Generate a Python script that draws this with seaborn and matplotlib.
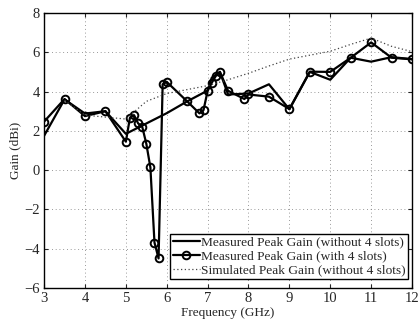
import matplotlib
matplotlib.use("Agg")
import matplotlib.pyplot as plt
import seaborn as sns
import pandas as pd

# Measured Peak Gain (without 4 slots)
freq_without = [3.0, 3.5, 4.0, 4.5, 5.0, 6.0, 6.5, 7.0, 7.1, 7.3, 7.5, 8.0, 8.5, 9.0, 9.5, 10.0, 10.5, 11.0, 11.5, 12.0]
gain_without = [1.75, 3.6, 2.88, 3.0, 1.85, 2.9, 3.5, 4.05, 4.7, 5.0, 3.85, 3.9, 4.37, 3.1, 5.0, 4.6, 5.72, 5.52, 5.75, 5.65]

# Measured Peak Gain (with 4 slots)
freq_with = [3.0, 3.5, 4.0, 4.5, 5.0, 5.1, 5.2, 5.3, 5.4, 5.5, 5.6, 5.7, 5.8, 5.9, 6.0, 6.5, 6.8, 6.9, 7.0, 7.1, 7.2, 7.3, 7.5, 7.9, 8.0, 8.5, 9.0, 9.5, 10.0, 10.5, 11.0, 11.5, 12.0]
gain_with = [2.47, 3.62, 2.75, 3.0, 1.45, 2.67, 2.8, 2.38, 2.21, 1.35, 0.14, -3.68, -4.49, 4.37, 4.49, 3.5, 2.89, 3.06, 4.03, 4.44, 4.79, 5.0, 4.04, 3.62, 3.85, 3.74, 3.11, 5.01, 5.0, 5.72, 6.5, 5.72, 5.64]

# Simulated Peak Gain (without 4 slots)
freq_sim = [3.5, 4.0, 4.5, 5.0, 5.5, 6.0, 6.5, 7.0, 7.5, 8.0, 8.5, 9.0, 9.5, 10.0, 10.5, 11.0, 11.5, 12.0]
gain_sim = [3.55, 2.8, 2.7, 2.6, 3.5, 3.9, 4.1, 4.3, 4.6, 4.93, 5.3, 5.65, 5.85, 6.05, 6.4, 6.72, 6.3, 6.03]

labels = ["Measured Peak Gain (without 4 slots)",
          "Measured Peak Gain (with 4 slots)",
          "Simulated Peak Gain (without 4 slots)"]

x_ticks = [3, 4, 5, 6, 7, 8, 9, 10, 11, 12]
y_ticks = [-6, -4, -2, 0, 2, 4, 6, 8]

sns.set_style("ticks")
plt.rcParams['font.family'] = ['Liberation Serif', 'DejaVu Serif']

fig = plt.figure(figsize=(4.2, 3.23), dpi=100)
ax = fig.add_axes([0.105, 0.108, 0.876, 0.852])

df1 = pd.DataFrame({"f": freq_without, "g": gain_without})
df2 = pd.DataFrame({"f": freq_with, "g": gain_with})
df3 = pd.DataFrame({"f": freq_sim, "g": gain_sim})

sns.lineplot(data=df1, x="f", y="g", ax=ax, sort=False, color="black", lw=1.6, label=labels[0])
sns.lineplot(data=df2, x="f", y="g", ax=ax, sort=False, color="black", lw=1.6,
             marker="o", markersize=5.5, markerfacecolor="none", markeredgecolor="black",
             markeredgewidth=1.4, label=labels[1])
sns.lineplot(data=df3, x="f", y="g", ax=ax, sort=False, color="#444444", lw=0.9,
             linestyle=(0, (1, 2)), label=labels[2])

ax.set_xlim(3, 12)
ax.set_ylim(-6, 8)
ax.set_xticks(x_ticks)
ax.set_yticks(y_ticks)
ax.set_xlabel("Frequency (GHz)", fontsize=9.5, labelpad=1)
ax.set_ylabel("Gain (dBi)", fontsize=9.5, labelpad=2)
ax.tick_params(direction="in", length=3, labelsize=10.5, width=0.8, top=True, right=True, pad=3)
ax.grid(True, linestyle=(0, (1, 3.5)), color="#777777", linewidth=0.6)
for s in ax.spines.values():
    s.set_linewidth(1.0)
    s.set_color("black")

leg = ax.legend(loc="lower right", bbox_to_anchor=(0.99, 0.033), fontsize=9.6, frameon=True,
                fancybox=False, edgecolor="black", framealpha=1, borderpad=0.2,
                labelspacing=0.12, handlelength=2.0, handletextpad=0.1, borderaxespad=0.0)
leg.get_frame().set_linewidth(1.0)

fig.savefig("out.png", dpi=100)
